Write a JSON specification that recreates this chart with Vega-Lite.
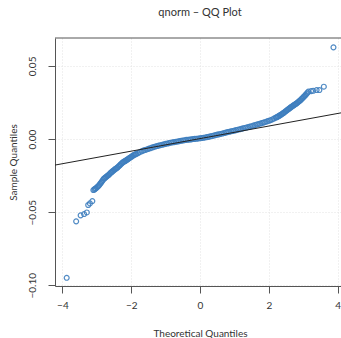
{
  "$schema": "https://vega.github.io/schema/vega-lite/v6.json",
  "autosize": {"type": "none"},
  "width": 286,
  "height": 248,
  "padding": {"left": 55, "top": 38, "right": 0, "bottom": 52},
  "background": "white",
  "title": {"text": "qnorm – QQ Plot", "font": "Lato", "fontSize": 11, "fontWeight": "normal", "color": "#333", "anchor": "middle", "offset": 20, "dx": 2},
  "config": {
    "view": {"stroke": null},
    "axis": {"labelFont": "Lato", "titleFont": "Lato", "labelFontSize": 10, "titleFontSize": 10, "labelColor": "#333", "titleColor": "#333", "titleFontWeight": "normal", "domainColor": "#555", "tickColor": "#555", "tickSize": 7, "gridColor": "#e2e2e2", "gridDash": [1, 2], "gridWidth": 1}
  },
  "datasets": {
    "pts": [
      {"t": -3.875, "s": -0.0949}, {"t": -3.60, "s": -0.0563}, {"t": -3.47, "s": -0.0522}, {"t": -3.37, "s": -0.0513},
      {"t": -3.29, "s": -0.0502}, {"t": -3.25, "s": -0.0451}, {"t": -3.20, "s": -0.0440}, {"t": -3.13, "s": -0.0424},
      {"t": -3.10, "s": -0.0349}, {"t": -3.07, "s": -0.0345}, {"t": -3.05, "s": -0.0340}, {"t": -3.03, "s": -0.0337},
      {"t": -3.00, "s": -0.0332}, {"t": -2.975, "s": -0.0326}, {"t": -2.95, "s": -0.0320}, {"t": -2.925, "s": -0.0313},
      {"t": -2.90, "s": -0.0305}, {"t": -2.875, "s": -0.0298}, {"t": -2.85, "s": -0.0290}, {"t": -2.825, "s": -0.0281},
      {"t": -2.80, "s": -0.0272}, {"t": -2.775, "s": -0.0268}, {"t": -2.75, "s": -0.0263}, {"t": -2.725, "s": -0.0258},
      {"t": -2.70, "s": -0.0253}, {"t": -2.675, "s": -0.0249}, {"t": -2.65, "s": -0.0244}, {"t": -2.625, "s": -0.0238},
      {"t": -2.60, "s": -0.0232}, {"t": -2.575, "s": -0.0227}, {"t": -2.55, "s": -0.0222}, {"t": -2.525, "s": -0.0217},
      {"t": -2.50, "s": -0.0212}, {"t": -2.475, "s": -0.0207}, {"t": -2.45, "s": -0.0203}, {"t": -2.425, "s": -0.0199},
      {"t": -2.40, "s": -0.0195}, {"t": -2.375, "s": -0.0189}, {"t": -2.35, "s": -0.0183}, {"t": -2.325, "s": -0.0178},
      {"t": -2.30, "s": -0.0172}, {"t": -2.275, "s": -0.0166}, {"t": -2.25, "s": -0.0161}, {"t": -2.225, "s": -0.0157},
      {"t": -2.20, "s": -0.0153}, {"t": -2.175, "s": -0.0150}, {"t": -2.15, "s": -0.0146}, {"t": -2.125, "s": -0.0142},
      {"t": -2.10, "s": -0.0138}, {"t": -2.075, "s": -0.0134}, {"t": -2.05, "s": -0.0130}, {"t": -2.025, "s": -0.0126},
      {"t": -2.00, "s": -0.0122}, {"t": -1.975, "s": -0.0118}, {"t": -1.95, "s": -0.0114}, {"t": -1.925, "s": -0.0110},
      {"t": -1.90, "s": -0.0107}, {"t": -1.875, "s": -0.0104}, {"t": -1.85, "s": -0.0101},
      {"t": -1.80, "s": -0.0096}, {"t": -1.75, "s": -0.0090}, {"t": -1.70, "s": -0.0084}, {"t": -1.65, "s": -0.0079},
      {"t": -1.60, "s": -0.0075}, {"t": -1.55, "s": -0.0071}, {"t": -1.50, "s": -0.0067}, {"t": -1.45, "s": -0.0063},
      {"t": -1.40, "s": -0.0059}, {"t": -1.35, "s": -0.0055}, {"t": -1.30, "s": -0.0051}, {"t": -1.25, "s": -0.0048},
      {"t": -1.20, "s": -0.0045}, {"t": -1.15, "s": -0.0042}, {"t": -1.10, "s": -0.0039}, {"t": -1.05, "s": -0.0036},
      {"t": -1.00, "s": -0.0033}, {"t": -0.95, "s": -0.0031}, {"t": -0.90, "s": -0.0028}, {"t": -0.85, "s": -0.0025},
      {"t": -0.80, "s": -0.0023}, {"t": -0.75, "s": -0.0021}, {"t": -0.70, "s": -0.0019}, {"t": -0.65, "s": -0.0017},
      {"t": -0.60, "s": -0.0014}, {"t": -0.55, "s": -0.0012}, {"t": -0.50, "s": -0.0010}, {"t": -0.45, "s": -0.0008},
      {"t": -0.40, "s": -0.0006}, {"t": -0.35, "s": -0.0005}, {"t": -0.30, "s": -0.0003}, {"t": -0.25, "s": -0.0002},
      {"t": -0.20, "s": 0.0000}, {"t": -0.15, "s": 0.0001}, {"t": -0.10, "s": 0.0002}, {"t": -0.05, "s": 0.0004},
      {"t": 0.00, "s": 0.0005}, {"t": 0.05, "s": 0.0007}, {"t": 0.10, "s": 0.0009}, {"t": 0.15, "s": 0.0011},
      {"t": 0.20, "s": 0.0013}, {"t": 0.25, "s": 0.0015}, {"t": 0.30, "s": 0.0018}, {"t": 0.35, "s": 0.0021},
      {"t": 0.40, "s": 0.0024}, {"t": 0.45, "s": 0.0027}, {"t": 0.50, "s": 0.0030}, {"t": 0.55, "s": 0.0032},
      {"t": 0.60, "s": 0.0035}, {"t": 0.65, "s": 0.0038}, {"t": 0.70, "s": 0.0041}, {"t": 0.75, "s": 0.0044},
      {"t": 0.80, "s": 0.0047}, {"t": 0.85, "s": 0.0050}, {"t": 0.90, "s": 0.0053}, {"t": 0.95, "s": 0.0055},
      {"t": 1.00, "s": 0.0058}, {"t": 1.05, "s": 0.0061}, {"t": 1.10, "s": 0.0064}, {"t": 1.15, "s": 0.0067},
      {"t": 1.20, "s": 0.0070}, {"t": 1.25, "s": 0.0073}, {"t": 1.30, "s": 0.0076}, {"t": 1.35, "s": 0.0079},
      {"t": 1.40, "s": 0.0082}, {"t": 1.45, "s": 0.0085}, {"t": 1.50, "s": 0.0088}, {"t": 1.55, "s": 0.0092},
      {"t": 1.60, "s": 0.0095}, {"t": 1.65, "s": 0.0099}, {"t": 1.70, "s": 0.0102}, {"t": 1.75, "s": 0.0106},
      {"t": 1.80, "s": 0.0109}, {"t": 1.85, "s": 0.0113}, {"t": 1.90, "s": 0.0117}, {"t": 1.95, "s": 0.0121},
      {"t": 2.00, "s": 0.0125}, {"t": 2.05, "s": 0.0129}, {"t": 2.10, "s": 0.0134}, {"t": 2.15, "s": 0.0140},
      {"t": 2.20, "s": 0.0146}, {"t": 2.225, "s": 0.0149}, {"t": 2.25, "s": 0.0152}, {"t": 2.275, "s": 0.0155},
      {"t": 2.30, "s": 0.0159}, {"t": 2.325, "s": 0.0162}, {"t": 2.35, "s": 0.0166}, {"t": 2.375, "s": 0.0170},
      {"t": 2.40, "s": 0.0174}, {"t": 2.425, "s": 0.0178}, {"t": 2.45, "s": 0.0182}, {"t": 2.475, "s": 0.0187},
      {"t": 2.50, "s": 0.0192}, {"t": 2.525, "s": 0.0196}, {"t": 2.55, "s": 0.0201}, {"t": 2.575, "s": 0.0205},
      {"t": 2.60, "s": 0.0210}, {"t": 2.625, "s": 0.0214}, {"t": 2.65, "s": 0.0219}, {"t": 2.675, "s": 0.0223},
      {"t": 2.70, "s": 0.0227}, {"t": 2.725, "s": 0.0231}, {"t": 2.75, "s": 0.0235}, {"t": 2.775, "s": 0.0239},
      {"t": 2.80, "s": 0.0243}, {"t": 2.825, "s": 0.0247}, {"t": 2.85, "s": 0.0252}, {"t": 2.875, "s": 0.0257},
      {"t": 2.90, "s": 0.0262}, {"t": 2.925, "s": 0.0267}, {"t": 2.95, "s": 0.0273}, {"t": 2.975, "s": 0.0279},
      {"t": 3.00, "s": 0.0285}, {"t": 3.025, "s": 0.0291}, {"t": 3.05, "s": 0.0297}, {"t": 3.075, "s": 0.0303},
      {"t": 3.10, "s": 0.0310}, {"t": 3.125, "s": 0.0317}, {"t": 3.15, "s": 0.0324},
      {"t": 3.23, "s": 0.0328}, {"t": 3.29, "s": 0.0330}, {"t": 3.39, "s": 0.0335}, {"t": 3.47, "s": 0.0335},
      {"t": 3.60, "s": 0.0358}, {"t": 3.88, "s": 0.0627}
    ],
    "ref": [{"t": -4.215, "s": -0.0178}, {"t": 4.099, "s": 0.0179}]
  },
  "layer": [
    {
      "data": {"name": "pts"},
      "mark": {"type": "point", "shape": "circle", "filled": false, "size": 24, "strokeWidth": 1.2, "color": "#3f7fbf", "opacity": 0.9},
      "encoding": {
        "x": {"field": "t", "type": "quantitative", "scale": {"domain": [-4.215, 4.099], "nice": false, "zero": false},
          "axis": {"values": [-4, -2, 0, 2, 4], "format": "d", "title": "Theoretical Quantiles", "labelBaseline": "middle", "labelPadding": 12, "titleX": 145, "titleY": 47, "titleBaseline": "middle", "titleAlign": "center"}},
        "y": {"field": "s", "type": "quantitative", "scale": {"domain": [-0.1005, 0.0691], "nice": false, "zero": false},
          "axis": {"values": [-0.1, -0.05, 0, 0.05], "format": ".2f", "title": "Sample Quantiles", "labelAngle": -90, "labelAlign": "center", "labelBaseline": "middle", "labelPadding": 16, "titleX": -42, "titleY": 124, "titleBaseline": "middle", "titleAlign": "center"}}
      }
    },
    {
      "data": {"name": "ref"},
      "mark": {"type": "line", "color": "#222", "strokeWidth": 1, "clip": true},
      "encoding": {
        "x": {"field": "t", "type": "quantitative"},
        "y": {"field": "s", "type": "quantitative"}
      }
    },
    {
      "data": {"values": [{"top": 0.0691}]},
      "mark": {"type": "rule", "color": "#555", "strokeWidth": 1},
      "encoding": {"y": {"field": "top", "type": "quantitative"}}
    }
  ]
}
